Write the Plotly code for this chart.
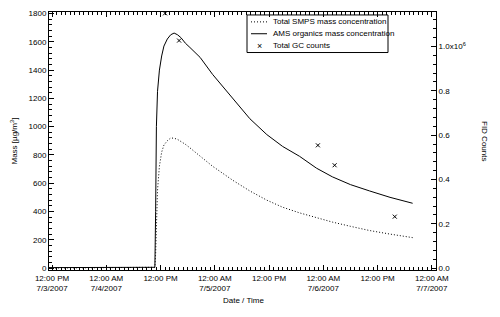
import pandas as pd
import plotly.graph_objects as go

# time grid shared by the SMPS and AMS traces
times = ["2007-07-03 11:20", "2007-07-04 10:45", "2007-07-04 10:55", "2007-07-04 11:05",
         "2007-07-04 11:20", "2007-07-04 11:45", "2007-07-04 12:15", "2007-07-04 12:45",
         "2007-07-04 13:30", "2007-07-04 14:15", "2007-07-04 15:00", "2007-07-04 15:45",
         "2007-07-04 16:30", "2007-07-04 17:30", "2007-07-04 18:30", "2007-07-04 20:45",
         "2007-07-04 23:30", "2007-07-05 04:00", "2007-07-05 07:45", "2007-07-05 11:30",
         "2007-07-05 15:00", "2007-07-05 18:45", "2007-07-05 22:30", "2007-07-06 02:00",
         "2007-07-06 06:00", "2007-07-06 10:15", "2007-07-06 14:45", "2007-07-06 19:45"]

smps = [0, 5, 100, 300, 550, 720, 820, 870, 900, 920, 918, 910, 896, 875, 850, 790,
        720, 620, 545, 480, 430, 390, 355, 325, 295, 265, 240, 215]

ams = [3, 5, 400, 1000, 1250, 1400, 1500, 1570, 1620, 1650, 1662, 1650, 1630, 1590,
       1560, 1490, 1370, 1196, 1056, 944, 860, 790, 706, 645, 590, 545, 500, 458]

gc_times = ["2007-07-04 13:00", "2007-07-04 16:06", "2007-07-05 22:48",
            "2007-07-06 02:30", "2007-07-06 15:48"]
gc_counts = [1.15e6, 1.027e6, 0.554e6, 0.464e6, 0.232e6]
gc_err_h = [0.8, 0.8, 0.8, 0.8, 0.8]

tick_times = ["2007-07-03 12:00", "2007-07-04 00:00", "2007-07-04 12:00", "2007-07-05 00:00",
              "2007-07-05 12:00", "2007-07-06 00:00", "2007-07-06 12:00", "2007-07-07 00:00"]
tick_text = ["12:00 PM<br>7/3/2007", "12:00 AM<br>7/4/2007", "12:00 PM", "12:00 AM<br>7/5/2007",
             "12:00 PM", "12:00 AM<br>7/6/2007", "12:00 PM", "12:00 AM<br>7/7/2007"]

fid_ticks = [0, 0.2e6, 0.4e6, 0.6e6, 0.8e6, 1.0e6]
fid_text = ["0.0", "0.2", "0.4", "0.6", "0.8", "1.0x10<sup>6</sup>"]

legend_names = ["Total SMPS mass concentration", "AMS organics mass concentration",
                "Total GC counts"]

t = pd.to_datetime(times)
gt = pd.to_datetime(gc_times)
hourly = pd.date_range("2007-07-03 11:00", "2007-07-07 01:00", freq="1h")
mass_minor = list(range(0, 1801, 40))
fid_minor = [k * 0.04e6 for k in range(0, 29)]
FONT = "Liberation Sans, Arial, sans-serif"

# the page body adds an 8px margin, so the figure is drawn 8px smaller
OFF = 8
FW, FH = 500 - OFF, 317 - OFF
L, T, W, H = 41, 1, 387, 261
def px(x):  # screen px -> paper x
    return (x - OFF - L) / W
def py(y):  # screen px -> paper y
    return 1 - (y - OFF - T) / H

fig = go.Figure()
fig.add_trace(go.Scatter(x=t, y=smps, mode="lines", name=legend_names[0],
                         line=dict(color="black", width=1, dash="1px,2px")))
fig.add_trace(go.Scatter(x=t, y=ams, mode="lines", name=legend_names[1],
                         line=dict(color="black", width=1)))
fig.add_trace(go.Scatter(x=gt, y=gc_counts, mode="markers", name=legend_names[2],
                         xaxis="x2", yaxis="y2",
                         marker=dict(symbol="x-thin", size=4, color="black",
                                     line=dict(color="black", width=1)),
                         error_x=dict(type="data", array=[e * 3.6e6 for e in gc_err_h],
                                      color="black", thickness=1, width=3),
                         cliponaxis=False))

# legend drawn by hand (plotly's rows are too tall for this one)
shapes = [
    dict(type="rect", xref="paper", yref="paper", x0=px(247), x1=px(388), y0=py(50),
         y1=py(12), line=dict(color="black", width=1)),
    dict(type="line", xref="paper", yref="paper", x0=px(251), x1=px(267), y0=py(19), y1=py(19),
         line=dict(color="black", width=1, dash="1px,2px")),
    dict(type="line", xref="paper", yref="paper", x0=px(251), x1=px(267), y0=py(31), y1=py(31),
         line=dict(color="black", width=1)),
]
annotations = [
    dict(text="×", xref="paper", yref="paper", x=px(259), y=py(43), showarrow=False,
         xanchor="center", yanchor="middle", font=dict(size=9)),
]
for name, row in zip(legend_names, [19, 31, 43]):
    annotations.append(dict(text=name, xref="paper", yref="paper", x=px(271), y=py(row),
                            xanchor="left", yanchor="middle", showarrow=False,
                            font=dict(size=8)))
annotations += [
    dict(text="FID Counts", textangle=90, xref="paper", yref="paper",
         x=px(485), y=0.5, xanchor="center", yanchor="middle", showarrow=False,
         font=dict(size=8)),
    dict(text="Mass [µg/m<sup>3</sup>]", textangle=-90, xref="paper", yref="paper",
         x=px(14), y=py(140), xanchor="center", yanchor="middle", showarrow=False,
         font=dict(size=8)),
    dict(text="Date / Time", xref="paper", yref="paper",
         x=px(243), y=py(301), xanchor="center", yanchor="middle", showarrow=False,
         font=dict(size=8)),
]

tick_style = dict(ticks="inside", ticklen=5, tickwidth=1, tickcolor="black",
                  showline=True, linecolor="black", linewidth=1,
                  showgrid=False, zeroline=False, ticklabeloverflow="allow")
def minor(vals):
    return dict(tickmode="array", tickvals=vals, ticks="inside", ticklen=3,
                tickwidth=1, tickcolor="black")

fig.update_layout(
    width=FW, height=FH,
    margin=dict(l=L, r=FW - L - W, t=T, b=FH - T - H),
    paper_bgcolor="white", plot_bgcolor="white",
    font=dict(family=FONT, size=8, color="black"),
    showlegend=False,
    shapes=shapes,
    annotations=annotations,
    xaxis=dict(type="date", range=["2007-07-03 11:20", "2007-07-07 00:55"],
               tickvals=pd.to_datetime(tick_times), ticktext=tick_text,
               minor=minor(hourly), anchor="y", **tick_style),
    xaxis2=dict(type="date", matches="x", overlaying="x", side="top", anchor="y",
                tickvals=pd.to_datetime(tick_times), showticklabels=False,
                minor=minor(hourly), **tick_style),
    yaxis=dict(range=[-14, 1811], tickmode="linear", tick0=0, dtick=200,
               minor=minor(mass_minor), anchor="x", **tick_style),
    yaxis2=dict(overlaying="y", side="right", anchor="x", range=[-0.0089e6, 1.156e6],
                tickvals=fid_ticks, ticktext=fid_text,
                minor=minor(fid_minor), **tick_style),
)

fig.write_html("out.html")
